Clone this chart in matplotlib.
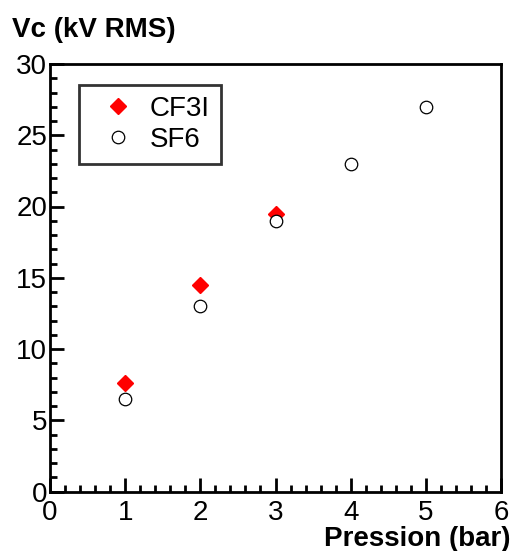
import matplotlib
matplotlib.use("Agg")
import matplotlib.pyplot as plt
from matplotlib.ticker import MultipleLocator

plt.rcParams['font.family'] = ['Liberation Sans', 'DejaVu Sans']

# data
p_cf3i = [1, 2, 3]
vc_cf3i = [7.6, 14.5, 19.5]
p_sf6 = [1, 2, 3, 4, 5]
vc_sf6 = [6.5, 13.0, 19.0, 23.0, 27.0]

fig = plt.figure(figsize=(5.16, 5.51), dpi=100)
ax = fig.add_axes([50/516, 1 - 491.5/551, 451/516, 427.5/551])

ax.plot(p_cf3i, vc_cf3i, 'D', color='red', markersize=8.5, label='CF3I', zorder=3)
ax.plot(p_sf6, vc_sf6, 'o', markerfacecolor='white', markeredgecolor='black',
        markeredgewidth=0.9, markersize=9, label='SF6', zorder=3)

ax.set_xlim(0, 6)
ax.set_ylim(0, 30)
ax.xaxis.set_major_locator(MultipleLocator(1))
ax.xaxis.set_minor_locator(MultipleLocator(0.2))
ax.yaxis.set_major_locator(MultipleLocator(5))
ax.yaxis.set_minor_locator(MultipleLocator(1))
ax.tick_params(which='both', direction='in', top=False, right=False,
               labelsize=20, width=2)
ax.tick_params(axis='y', pad=2)
ax.tick_params(axis='x', pad=6)
ax.tick_params(which='major', length=10)
ax.tick_params(which='minor', length=5)
for s in ax.spines.values():
    s.set_linewidth(2)

fig.text(12/516, 1 - 30/551, 'Vc (kV RMS)', fontsize=20, fontweight='bold',
         ha='left', va='center')
fig.text(511/516, 1 - 539/551, 'Pression (bar)', fontsize=20, fontweight='bold',
         ha='right', va='center')

leg = ax.legend(loc='upper left', bbox_to_anchor=(29/451, 1 - 21/427.5),
                fontsize=20, frameon=True, fancybox=False, edgecolor='black',
                handletextpad=0.15, borderpad=0.4, labelspacing=0.18,
                handlelength=2.0, borderaxespad=0)
leg.get_frame().set_linewidth(2)

fig.savefig('out.png', dpi=100)
